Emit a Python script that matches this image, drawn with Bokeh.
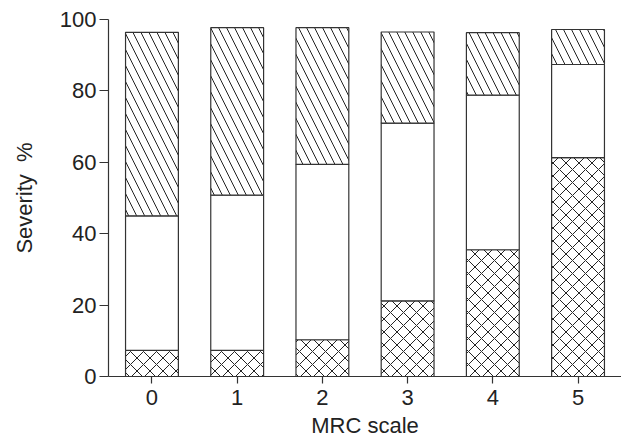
from bokeh.plotting import figure
from bokeh.models import ColumnDataSource, FixedTicker
from bokeh.embed import file_html
from bokeh.resources import INLINE

# Data
mrc_scale = [0, 1, 2, 3, 4, 5]
tick_labels = ["0", "1", "2", "3", "4", "5"]
severe = [7.3, 7.3, 10.3, 21.2, 35.5, 61.3]     # cross-hatched (bottom)
moderate = [37.7, 43.5, 49.1, 49.8, 43.3, 26.1]  # white (middle)
mild = [51.4, 46.9, 38.3, 25.5, 17.5, 9.8]       # diagonal hatch (top)

t1 = [a for a in severe]
t2 = [a + b for a, b in zip(t1, moderate)]
t3 = [a + b for a, b in zip(t2, mild)]

src = ColumnDataSource(dict(x=mrc_scale, b1=[0]*6, t1=t1, b2=t1, t2=t2, b3=t2, t3=t3))

FONT = "Liberation Sans"
TXT = "#222222"
LINE = "#333333"

p = figure(width=621, height=447, x_range=(-0.51, 5.51), y_range=(0, 100),
           output_backend="svg", toolbar_location=None,
           min_border_left=108, min_border_right=0, min_border_top=19, min_border_bottom=71)
p.outline_line_color = None
p.xgrid.grid_line_color = None
p.ygrid.grid_line_color = None
p.background_fill_color = "white"

W = 0.62
common = dict(source=src, x="x", width=W, line_color=LINE, line_width=1.2)
p.vbar(bottom="b1", top="t1", fill_color="white", hatch_pattern="x",
       hatch_color="#222222", hatch_weight=1, hatch_scale=13, **common)
p.vbar(bottom="b2", top="t2", fill_color="white", **common)
p.vbar(bottom="b3", top="t3", fill_color="white", hatch_pattern="\\",
       hatch_color="#222222", hatch_weight=1, hatch_scale=16, **common)

p.xaxis.ticker = FixedTicker(ticks=mrc_scale)
p.xaxis.major_label_overrides = {i: s for i, s in zip(mrc_scale, tick_labels)}
p.yaxis.ticker = FixedTicker(ticks=[0, 20, 40, 60, 80, 100])

for ax in (p.xaxis[0], p.yaxis[0]):
    ax.axis_line_color = LINE
    ax.axis_line_width = 1.2
    ax.major_tick_line_color = LINE
    ax.major_tick_line_width = 1.2
    ax.major_tick_in = 0
    ax.minor_tick_line_color = None
    ax.major_label_text_font = FONT
    ax.major_label_text_font_size = "22px"
    ax.major_label_text_color = TXT
    ax.axis_label_text_font = FONT
    ax.axis_label_text_font_size = "22px"
    ax.axis_label_text_font_style = "normal"
    ax.axis_label_text_color = TXT

p.xaxis.major_tick_out = 7
p.yaxis.major_tick_out = 9
p.xaxis.major_label_standoff = 6
p.yaxis.major_label_standoff = 3
p.xaxis.axis_label = "MRC scale"
p.yaxis.axis_label = "Severity\u00a0\u00a0%"
p.xaxis.axis_label_standoff = 5
p.yaxis.axis_label_standoff = 20

open("out.html", "w").write(file_html(p, INLINE))
